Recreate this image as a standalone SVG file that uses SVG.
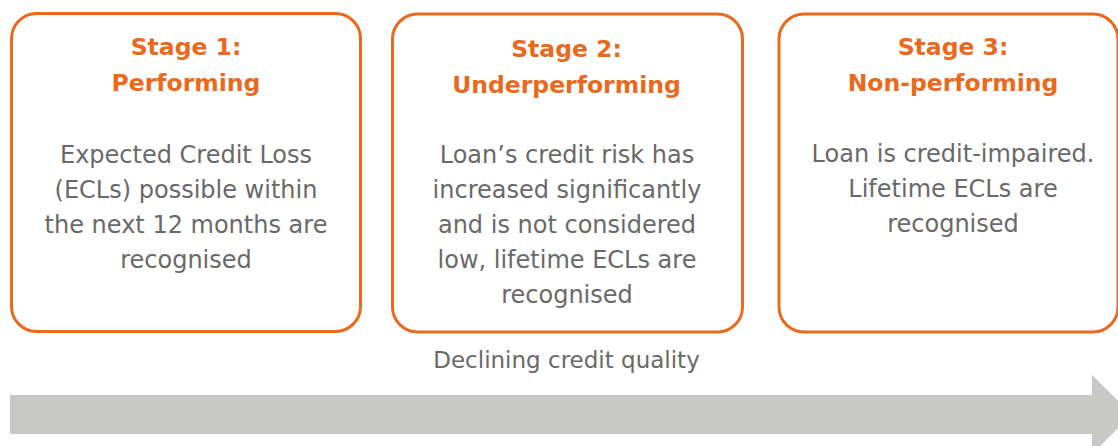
<svg xmlns="http://www.w3.org/2000/svg" width="1118" height="446" viewBox="0 0 1118 446">
  <style>
    .box { fill: #ffffff; stroke: #ea6a1d; stroke-width: 3; }
    .title { font-family: "DejaVu Sans", "Liberation Sans", sans-serif; font-weight: bold; font-size: 23.5px; fill: #ea6a1d; text-anchor: middle; }
    .body { font-family: "DejaVu Sans", "Liberation Sans", sans-serif; font-size: 24px; fill: #696969; text-anchor: middle; }
    .caption { font-family: "DejaVu Sans", "Liberation Sans", sans-serif; font-size: 23px; fill: #696969; text-anchor: middle; }
    .arrow { fill: #c8c8c6; }
  </style>
  <rect width="1118" height="446" fill="#ffffff"/>
  <g id="connectors">
    <polygon class="arrow" points="10,395 1092,395 1092,375 1132,414.5 1092,454 1092,434 10,434"/>
    <text class="caption" x="566.5" y="368">Declining credit quality</text>
  </g>
  <g id="stage1">
    <rect class="box" x="11.5" y="13.5" width="349" height="318" rx="25"/>
    <text class="title" x="186" y="55">Stage 1:</text>
    <text class="title" x="186" y="91">Performing</text>
    <text class="body" x="186" y="163">Expected Credit Loss</text>
    <text class="body" x="186" y="198">(ECLs) possible within</text>
    <text class="body" x="186" y="233">the next 12 months are</text>
    <text class="body" x="186" y="268">recognised</text>
  </g>
  <g id="stage2">
    <rect class="box" x="392.5" y="14" width="350" height="318" rx="25"/>
    <text class="title" x="566.5" y="57">Stage 2:</text>
    <text class="title" x="566.5" y="93">Underperforming</text>
    <text class="body" x="567" y="163">Loan’s credit risk has</text>
    <text class="body" x="567" y="198">increased significantly</text>
    <text class="body" x="567" y="233">and is not considered</text>
    <text class="body" x="567" y="268">low, lifetime ECLs are</text>
    <text class="body" x="567" y="303">recognised</text>
  </g>
  <g id="stage3">
    <rect class="box" x="779" y="14" width="339" height="318" rx="25"/>
    <text class="title" x="953" y="55">Stage 3:</text>
    <text class="title" x="953" y="91">Non-performing</text>
    <text class="body" x="953" y="162">Loan is credit-impaired.</text>
    <text class="body" x="953" y="197">Lifetime ECLs are</text>
    <text class="body" x="953" y="232">recognised</text>
  </g>
</svg>
